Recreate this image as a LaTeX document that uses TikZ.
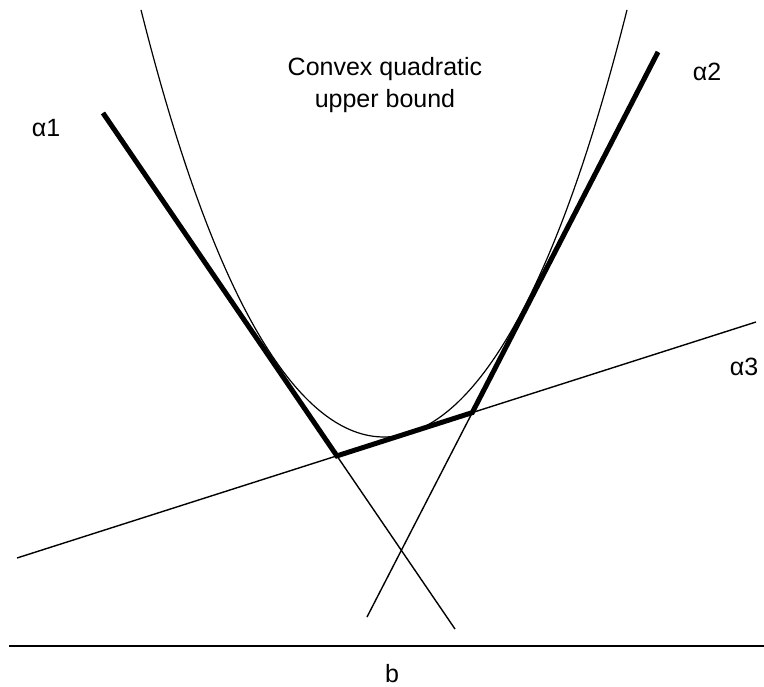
\documentclass[tikz,border=0pt]{standalone}
\usepackage{fontspec}
\setmainfont{Liberation Sans}
\begin{document}
\begin{tikzpicture}[x=1pt,y=-1pt,
  thinline/.style={line width=1.4pt},
  curveline/.style={line width=1.2pt},
  thickline/.style={line width=5pt},
  baseline/.style={line width=2pt},
  lbl/.style={font=\fontsize{25}{31}\selectfont, inner sep=0pt}]
\useasboundingbox (0,0) rectangle (764,687);
% line end points
\coordinate (A1s) at (103,113);
\coordinate (A1e) at (455,629);
\coordinate (A2s) at (658,52);
\coordinate (A2e) at (367,617);
\coordinate (A3s) at (17,558);
\coordinate (A3e) at (756,322);
\coordinate (P1) at (intersection of A1s--A1e and A3s--A3e);
\coordinate (P2) at (intersection of A2s--A2e and A3s--A3e);
\coordinate (Bs) at (9,646);
\coordinate (Be) at (764,646);
% thin full lines
\draw[thinline] (A1s) -- (A1e);
\draw[thinline] (A2s) -- (A2e);
\draw[thinline] (A3s) -- (A3e);
% quadratic upper bound
\draw[curveline] plot[domain=141:627, samples=120, smooth]
  (\x, {437 - 62.88*((\x-384)/100)^2 - 1.6*((\x-384)/100)^4});
% thick piecewise-linear lower bound
\draw[thickline] (A1s) -- (P1) -- (P2) -- (A2s);
% axis
\draw[baseline] (Bs) -- (Be);
% labels
\node[lbl] (t1) at (385,69) {Convex quadratic};
\node[lbl] (t2) at (385,101) {upper bound};
\node[lbl] (a1) at (46,128) {α1};
\node[lbl] (a2) at (707,72) {α2};
\node[lbl] (a3) at (744,367) {α3};
\node[lbl] (b) at (392,674) {b};
\end{tikzpicture}
\end{document}
